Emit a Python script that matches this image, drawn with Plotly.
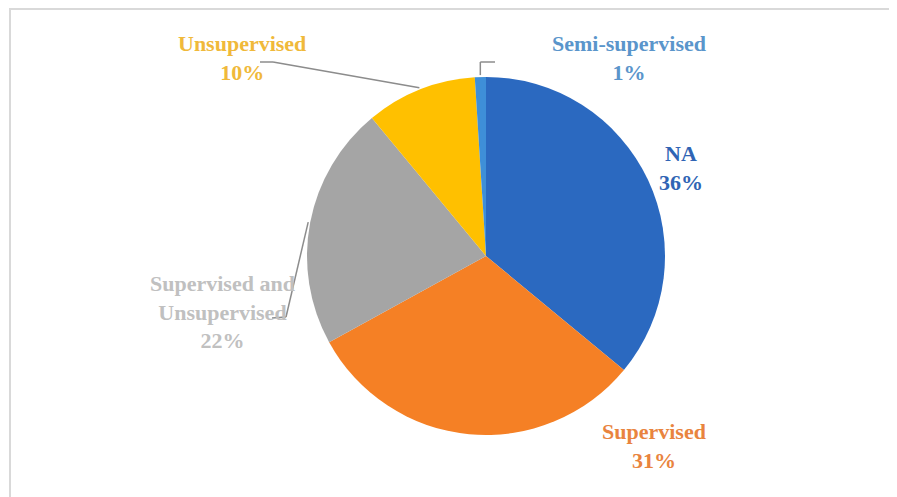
import math
import plotly.graph_objects as go

# ---- data ----
categories = ["NA", "Supervised", "Supervised and Unsupervised", "Unsupervised", "Semi-supervised"]
values = [36, 31, 22, 10, 1]
label_lines = [["NA"], ["Supervised"], ["Supervised and", "Unsupervised"], ["Unsupervised"], ["Semi-supervised"]]

slice_colors = ["#2B69C0", "#F58025", "#A5A5A5", "#FFC000", "#3E8FD8"]
text_colors = ["#2F64B4", "#E9843E", "#C0C0C0", "#F0B93A", "#5A95CB"]

OFF = 8  # page body margin
W, H = 897 - OFF, 497 - OFF
CX, CY, R = 486, 256, 179

# label block centers (pixels in the screenshot)
label_pos = [(681, 168), (654, 446), (222, 312), (242, 58), (629, 58)]

def px(x):
    return (x - OFF) / W

def py(y):
    return 1 - (y - OFF) / H

fig = go.Figure(go.Pie(
    labels=categories,
    values=values,
    sort=False,
    direction="clockwise",
    rotation=0,
    marker=dict(colors=slice_colors, line=dict(width=0)),
    textinfo="none",
    hoverinfo="label+percent",
    showlegend=False,
    domain=dict(x=[px(CX - R), px(CX + R)], y=[py(CY + R), py(CY - R)]),
))

total = sum(values)
annotations = []
for lines, v, (lx, ly), col in zip(label_lines, values, label_pos, text_colors):
    pct = round(100 * v / total)
    text = "<br>".join(f"<b>{t}</b>" for t in lines + [f"{pct}%"])
    annotations.append(dict(
        x=px(lx), y=py(ly), xref="paper", yref="paper",
        text=text, showarrow=False, align="center",
        xanchor="center", yanchor="middle",
        font=dict(family="Liberation Serif, Times New Roman, serif", size=22, color=col),
    ))

# slice mid angles for leader lines
cum = 0
mid_pts = []
for v in values:
    mid = (cum + v / 2) / total * 2 * math.pi
    cum += v
    mid_pts.append((CX + (R + 2) * math.sin(mid), CY - (R + 2) * math.cos(mid)))

shapes = [
    # outer frame
    dict(type="rect", xref="paper", yref="paper", x0=px(10), x1=1.02, y0=-0.02, y1=py(9),
         line=dict(color="#D9D9D9", width=2), fillcolor="rgba(0,0,0,0)"),
]
lc = "#8C8C8C"
def seg(p, q):
    return dict(type="line", xref="paper", yref="paper", x0=px(p[0]), y0=py(p[1]),
                x1=px(q[0]), y1=py(q[1]), line=dict(color=lc, width=1.5))

# Unsupervised leader
u = mid_pts[3]
shapes += [seg((260, 62), (273, 62)), seg((273, 62), u)]
# Semi-supervised leader
s = mid_pts[4]
shapes += [seg((s[0], s[1]), (s[0], 62)), seg((s[0], 62), (495, 62))]
# Supervised and Unsupervised leader
g = mid_pts[2]
shapes += [seg(g, (286, 317)), seg((286, 317), (272, 318))]

fig.update_layout(
    width=W, height=H,
    margin=dict(l=0, r=0, t=0, b=0),
    paper_bgcolor="white", plot_bgcolor="white",
    annotations=annotations, shapes=shapes,
)

fig.write_html("out.html")
